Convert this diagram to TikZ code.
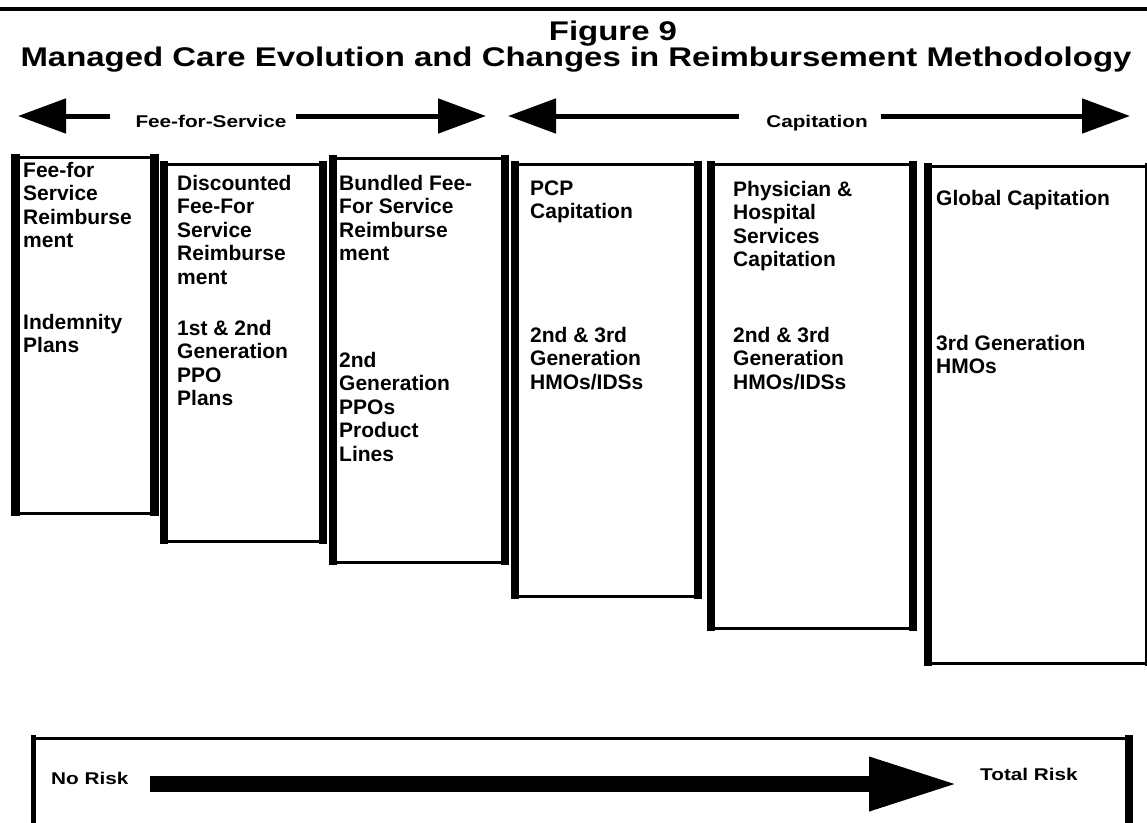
\documentclass[tikz,border=0pt]{standalone}
\usepackage{graphicx}
\usepackage{fontspec}
\setmainfont{Liberation Sans}
\usetikzlibrary{arrows.meta}
\newcommand\widetxt[1]{\scalebox{1.22}[1]{#1}}
% name, x1, y1, x2, y2 (outer edges, y downwards), left side width, right side width
\newcommand\mkbox[7]{%
  \node[colbox, minimum width={#4-#2-3}, minimum height={#5-#3-3}] (#1) at ({#2+1.5},{#3+1.5}) {};
  \draw[line width=#6pt] ([xshift={#6/2-1.5},yshift=1.5]#1.north west) -- ([xshift={#6/2-1.5},yshift=-1.5]#1.south west);
  \draw[line width=#7pt] ([xshift={1.5-#7/2},yshift=1.5]#1.north east) -- ([xshift={1.5-#7/2},yshift=-1.5]#1.south east);
}
\begin{document}
\begin{tikzpicture}[x=1pt,y=-1pt,
  colbox/.style={draw, line width=3pt, inner sep=0pt, anchor=north west},
  boxtxt/.style={anchor=base west, inner sep=0pt, align=left, font=\fontsize{21}{23.5}\selectfont\bfseries},
  lbl/.style={inner sep=0pt, anchor=base, font=\fontsize{17}{20}\selectfont\bfseries},
  ttl/.style={inner sep=0pt, anchor=base, font=\fontsize{27}{30}\selectfont\bfseries},
  fatarrow/.style={line width=5pt, -{Triangle[length=48pt,width=34pt]}},
  riskarrow/.style={line width=16pt, -{Triangle[length=89pt,width=50pt]}}]
\useasboundingbox (0,0) rectangle (1147,822);

% top rule
\coordinate (ruleL) at (0,9);
\coordinate (ruleR) at (1147,9);
\draw[line width=4pt] (ruleL) -- (ruleR);

% titles
\node[ttl] (fig) at (613,40) {\widetxt{Figure 9}};
\node[ttl] (title) at (576,66) {\widetxt{Managed Care Evolution and Changes in Reimbursement Methodology}};

% top arrows
\node[lbl] (ffs) at (211,127) {\widetxt{Fee-for-Service}};
\node[lbl] (cap) at (817,127) {\widetxt{Capitation}};
\coordinate (ffsLs) at (110,116);
\coordinate (ffsLt) at (18,116);
\coordinate (ffsRs) at (296,116);
\coordinate (ffsRt) at (486,116);
\coordinate (capLs) at (739,116);
\coordinate (capLt) at (508,116);
\coordinate (capRs) at (881,116);
\coordinate (capRt) at (1130,116);
\draw[fatarrow] (ffsLs) -- (ffsLt);
\draw[fatarrow] (ffsRs) -- (ffsRt);
\draw[fatarrow] (capLs) -- (capLt);
\draw[fatarrow] (capRs) -- (capRt);

% column boxes
\mkbox{b1}{11}{154}{156}{513}{9}{9}
\mkbox{b2}{160}{161}{324}{541}{8}{8}
\mkbox{b3}{329}{155}{506}{562}{8}{8}
\mkbox{b4}{511}{161}{699}{596}{8}{8}
\mkbox{b5}{707}{161}{914}{628}{8}{8}
\mkbox{b6}{924}{163}{1146}{663}{8}{4}

% multi-line nodes: base = baseline of the last line
\node[boxtxt] (b1a) at (23,247.5) {Fee-for\\Service\\Reimburse\\ment};
\node[boxtxt] (b1b) at (23,352.5) {Indemnity\\Plans};
\node[boxtxt] (b2a) at (177,284) {Discounted\\Fee-For\\Service\\Reimburse\\ment};
\node[boxtxt] (b2b) at (177,405.5) {1st \& 2nd\\Generation\\PPO\\Plans};
\node[boxtxt] (b3a) at (339,260.5) {Bundled Fee-\\For Service\\Reimburse\\ment};
\node[boxtxt] (b3b) at (339,461) {2nd\\Generation\\PPOs\\Product\\Lines};
\node[boxtxt] (b4a) at (530,218.5) {PCP\\Capitation};
\node[boxtxt] (b4b) at (530,389) {2nd \& 3rd\\Generation\\HMOs/IDSs};
\node[boxtxt] (b5a) at (733,266.5) {Physician \&\\Hospital\\Services\\Capitation};
\node[boxtxt] (b5b) at (733,389) {2nd \& 3rd\\Generation\\HMOs/IDSs};
\node[boxtxt] (b6a) at (936,205) {Global Capitation};
\node[boxtxt] (b6b) at (936,373.5) {3rd Generation\\HMOs};

% risk box
\mkbox{risk}{31}{735}{1130}{860}{5}{8}
\node[lbl, anchor=base west] (norisk) at (51,784) {\widetxt{No Risk}};
\node[lbl, anchor=base west] (totrisk) at (980,780) {\widetxt{Total Risk}};
\coordinate (rs) at (150,784);
\coordinate (rt) at (958,784);
\draw[riskarrow] (rs) -- (rt);
\end{tikzpicture}
\end{document}
